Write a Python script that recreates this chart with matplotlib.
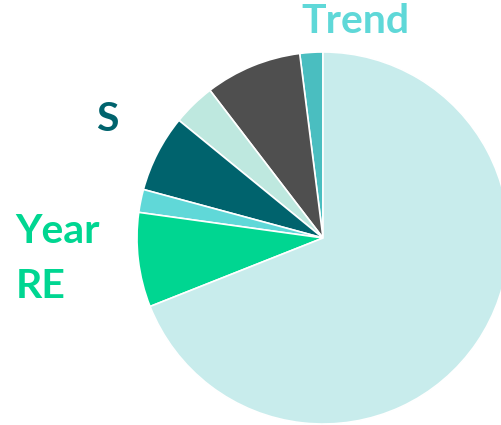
import matplotlib
matplotlib.use('Agg')
from matplotlib import pyplot as plt


# slice shares (percent), counter-clockwise from 12 o'clock
slices = ['Trend', 'Other1', 'Other2', 'S', 'Other3', 'Year RE', 'Rest']
shares = [2.0, 8.4, 3.7, 6.7, 2.0, 8.2, 69.0]
colors = ['#4ABEC0', '#4F4F4F', '#BEE8DF', '#00636D', '#60D8D8', '#00D691', '#C8ECEC']

# labels drawn beside the pie
label_text = ['Trend', 'S', 'Year', 'RE']
label_color = ['#5FD8D8', '#00636D', '#00D691', '#00D691']
label_xy = [(301, 33), (96, 131), (15, 243), (16, 298)]   # left, baseline in pixels


W, H = 502, 425
fig = plt.figure(figsize=(W / 100, H / 100), dpi=100)

cx, cy, r = 323, 238, 186
ax = fig.add_axes([(cx - r) / W, (H - cy - r) / H, 2 * r / W, 2 * r / H])
ax.pie(shares, colors=colors, startangle=90, counterclock=True,
       wedgeprops=dict(edgecolor='white', linewidth=1.2))
ax.set_xlim(-1, 1)
ax.set_ylim(-1, 1)
ax.axis('off')

for text, col, (x, y) in zip(label_text, label_color, label_xy):
    fig.text(x / W, 1 - y / H, text, color=col, fontsize=29.5, fontweight='bold',
             family=['Lato', 'DejaVu Sans'], ha='left', va='baseline')

fig.savefig('out.png', dpi=100)
